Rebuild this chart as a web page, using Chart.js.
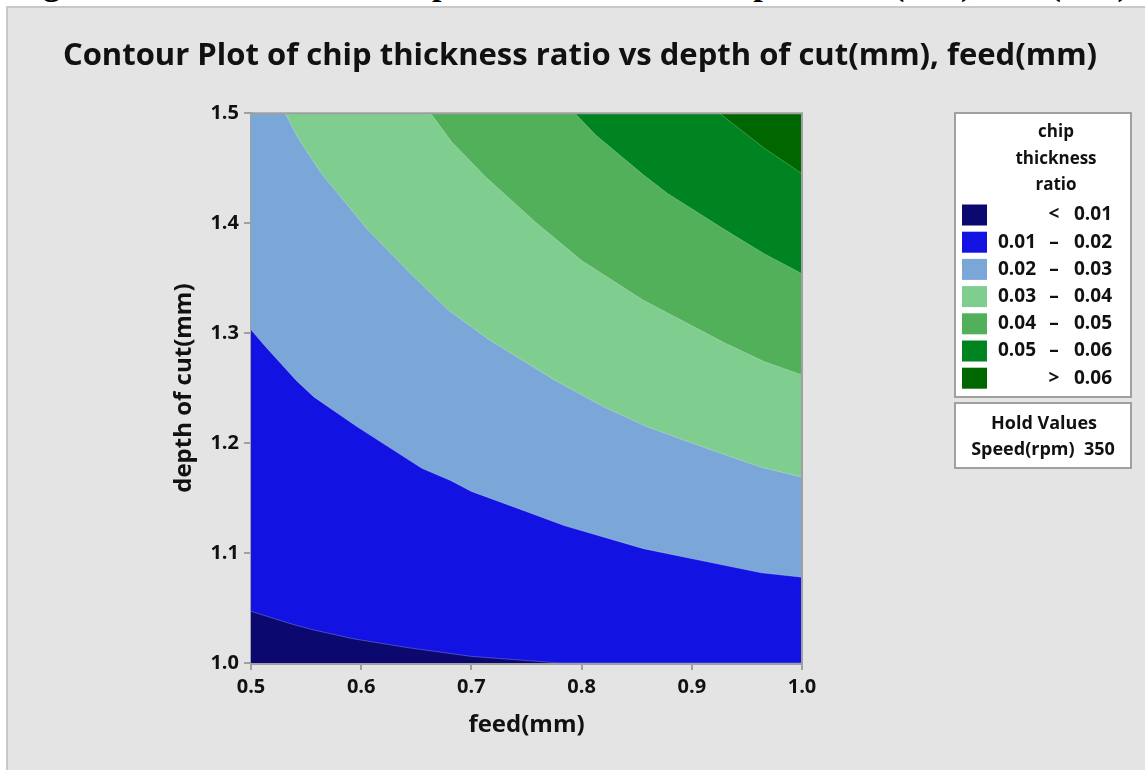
<!DOCTYPE html>
<html>
<head>
<meta charset="utf-8">
<title>Contour Plot</title>
<script src="https://cdn.jsdelivr.net/npm/chart.js@4.4.1/dist/chart.umd.min.js"></script>
<style>
  html, body { margin: 0; padding: 0; background: #fff; }
  body { width: 1145px; height: 770px; position: relative; overflow: hidden; }
  #caption {
    position: absolute; left: 13px; top: -16px;
    font: bold 34px "Liberation Serif", "Times New Roman", serif;
    line-height: 0; white-space: nowrap; color: #000;
  }
  #panel {
    position: absolute; left: 6px; top: 6px; width: 1150px; height: 770px;
    background: #e4e4e4; border: 2px solid #c8c8c8; box-sizing: border-box;
  }
  #wrap { position: absolute; left: 0; top: 0; width: 1145px; height: 770px; }
</style>
</head>
<body>
<div id="caption">Figure 3: Contour Plot of chip thickness ratio vs depth of cut(mm), feed(mm)</div>
<div id="panel"></div>
<div id="wrap"><canvas id="contour"></canvas></div>
<script>
  var FONT = '"Open Sans", "Noto Sans", sans-serif';
  var AXIS_GREY = '#a0a0a0';

  // axes
  var feedTicks  = [0.5, 0.6, 0.7, 0.8, 0.9, 1.0];
  var depthTicks = [1.0, 1.1, 1.2, 1.3, 1.4, 1.5];

  // contour levels of chip thickness ratio and the band colours (lowest band first)
  var levels     = [0.01, 0.02, 0.03, 0.04, 0.05, 0.06];
  var bandColors = ['#0b0970', '#1212e2', '#7ba7d8', '#80cd90', '#52b05a', '#008422', '#006600'];

  // contour lines: depth of cut at each feed where the ratio equals the level
  var feed01  = [0.500, 0.535, 0.557, 0.593, 0.642, 0.700, 0.740, 0.780, 1.000];
  var depth01 = [1.047, 1.036, 1.030, 1.022, 1.014, 1.006, 1.003, 1.000, 1.000];

  var feed02  = [0.500, 0.512, 0.541, 0.557, 0.596, 0.655, 0.681, 0.700, 0.749, 0.784, 0.856, 0.914, 0.963, 1.000];
  var depth02 = [1.303, 1.289, 1.257, 1.242, 1.215, 1.177, 1.166, 1.156, 1.138, 1.125, 1.104, 1.092, 1.082, 1.078];

  var feed03  = [0.531, 0.543, 0.564, 0.606, 0.645, 0.679, 0.716, 0.776, 0.820, 0.859, 0.914, 0.963, 1.000];
  var depth03 = [1.500, 1.477, 1.445, 1.394, 1.354, 1.321, 1.294, 1.257, 1.233, 1.215, 1.195, 1.178, 1.169];

  var feed04  = [0.663, 0.682, 0.713, 0.758, 0.800, 0.856, 0.930, 0.966, 1.000];
  var depth04 = [1.500, 1.474, 1.442, 1.401, 1.366, 1.330, 1.291, 1.274, 1.262];

  var feed05  = [0.794, 0.813, 0.856, 0.878, 0.930, 0.966, 1.000];
  var depth05 = [1.500, 1.480, 1.444, 1.427, 1.394, 1.372, 1.354];

  var feed06  = [0.925, 0.966, 1.000];
  var depth06 = [1.500, 1.468, 1.445];

  var holdLabel = 'Speed(rpm)';
  var holdSpeed = 350;

  function pts(xs, ys) {
    return xs.map(function (x, i) { return { x: x, y: ys[i] }; });
  }

  // each line fills up to the top of the plot; higher levels sit on top
  var lines = [
    pts(feed01, depth01), pts(feed02, depth02), pts(feed03, depth03),
    pts(feed04, depth04), pts(feed05, depth05), pts(feed06, depth06)
  ];
  var datasets = [];
  for (var k = lines.length - 1; k >= 0; k--) {
    datasets.push({
      label: '> ' + levels[k],
      data: lines[k],
      backgroundColor: bandColors[k + 1],
      borderColor: 'rgba(255,255,255,0.25)',
      borderWidth: 1,
      pointRadius: 0,
      fill: 'end'
    });
  }
  // lowest band covers the whole plot underneath
  datasets.push({
    label: '< ' + levels[0],
    data: [{ x: feedTicks[0], y: depthTicks[0] }, { x: feedTicks[feedTicks.length - 1], y: depthTicks[0] }],
    backgroundColor: bandColors[0],
    borderWidth: 0,
    pointRadius: 0,
    fill: 'end'
  });

  var plotFrame = {
    id: 'plotFrame',
    afterDatasetsDraw: function (chart) {
      var a = chart.chartArea, ctx = chart.ctx;
      ctx.save();
      ctx.strokeStyle = AXIS_GREY;
      ctx.lineWidth = 2;
      ctx.beginPath();
      ctx.moveTo(a.left, a.top);
      ctx.lineTo(a.right, a.top);
      ctx.lineTo(a.right, a.bottom);
      ctx.stroke();
      ctx.restore();
    }
  };

  // Minitab-style boxed legend with hold values underneath
  var bandLegend = {
    id: 'bandLegend',
    afterDraw: function (chart) {
      var ctx = chart.ctx;
      ctx.save();
      ctx.fillStyle = '#fff';
      ctx.strokeStyle = AXIS_GREY;
      ctx.lineWidth = 2;
      ctx.fillRect(955, 113, 176, 284);
      ctx.strokeRect(955, 113, 176, 284);
      ctx.fillRect(955, 403, 176, 65);
      ctx.strokeRect(955, 403, 176, 65);

      ctx.fillStyle = '#111';
      ctx.textAlign = 'center';
      ctx.textBaseline = 'alphabetic';
      ctx.font = 'bold 17px ' + FONT;
      ['chip', 'thickness', 'ratio'].forEach(function (t, i) {
        ctx.fillText(t, 1056, 137 + i * 26.5);
      });

      ctx.font = 'bold 19px ' + FONT;
      ctx.textBaseline = 'middle';
      for (var i = 0; i < bandColors.length; i++) {
        var cy = 215 + i * 27.2;
        ctx.fillStyle = bandColors[i];
        ctx.fillRect(962, cy - 10.5, 25, 21);
        ctx.fillStyle = '#111';
        var sep, lo = null, hi;
        if (i === 0) { sep = '<'; hi = levels[0]; }
        else if (i === bandColors.length - 1) { sep = '>'; hi = levels[levels.length - 1]; }
        else { sep = '\u2013'; lo = levels[i - 1]; hi = levels[i]; }
        ctx.textAlign = 'left';
        if (lo !== null) ctx.fillText(lo.toFixed(2), 998, cy);
        ctx.fillText(hi.toFixed(2), 1074, cy);
        ctx.textAlign = 'center';
        ctx.fillText(sep, 1054, cy);
      }

      ctx.font = 'bold 18px ' + FONT;
      ctx.textAlign = 'center';
      ctx.textBaseline = 'alphabetic';
      ctx.fillText('Hold Values', 1044, 429);
      ctx.fillText(holdLabel + '  ' + holdSpeed, 1043, 455);
      ctx.restore();
    }
  };

  function axis(ticks, titleText, titlePad, size) {
    return {
      type: 'linear',
      min: ticks[0],
      max: ticks[ticks.length - 1],
      afterBuildTicks: function (s) {
        s.ticks = ticks.map(function (v) { return { value: v }; });
      },
      ticks: {
        callback: function (v) { return Number(v).toFixed(1); },
        color: '#111',
        font: { family: FONT, size: 20, weight: 'bold' },
        padding: 5,
        autoSkip: false,
        maxRotation: 0
      },
      grid: {
        drawOnChartArea: false,
        drawTicks: true,
        tickLength: 7,
        color: AXIS_GREY,
        lineWidth: 2
      },
      border: { display: true, color: AXIS_GREY, width: 3 },
      title: {
        display: true,
        text: titleText,
        color: '#111',
        font: { family: FONT, size: 24, weight: 'bold' },
        padding: titlePad
      },
      afterFit: size
    };
  }

  new Chart(document.getElementById('contour'), {
    type: 'line',
    data: { datasets: datasets },
    options: {
      responsive: true,
      maintainAspectRatio: false,
      animation: false,
      layout: { padding: { left: 15, top: 0, right: 0, bottom: 0 } },
      plugins: {
        legend: { display: false },
        tooltip: { enabled: false },
        title: {
          display: true,
          text: 'Contour Plot of chip thickness ratio vs depth of cut(mm), feed(mm)',
          color: '#111',
          font: { family: FONT, size: 31, weight: 'bold' },
          padding: { top: 38, bottom: 38 }
        },
        filler: { propagate: false }
      },
      elements: { line: { tension: 0 } },
      scales: {
        x: axis(feedTicks, 'feed(mm)', { top: 0, bottom: 30 }, function (s) { s.height = 107; }),
        y: axis(depthTicks, 'depth of cut(mm)', { top: 155, bottom: 0 }, function (s) { s.width = 236; }),
        gap: {
          position: 'right',
          display: true,
          grid: { display: false },
          ticks: { display: false },
          border: { display: false },
          afterFit: function (s) { s.width = 343; }
        }
      }
    },
    plugins: [plotFrame, bandLegend]
  });
</script>
</body>
</html>
